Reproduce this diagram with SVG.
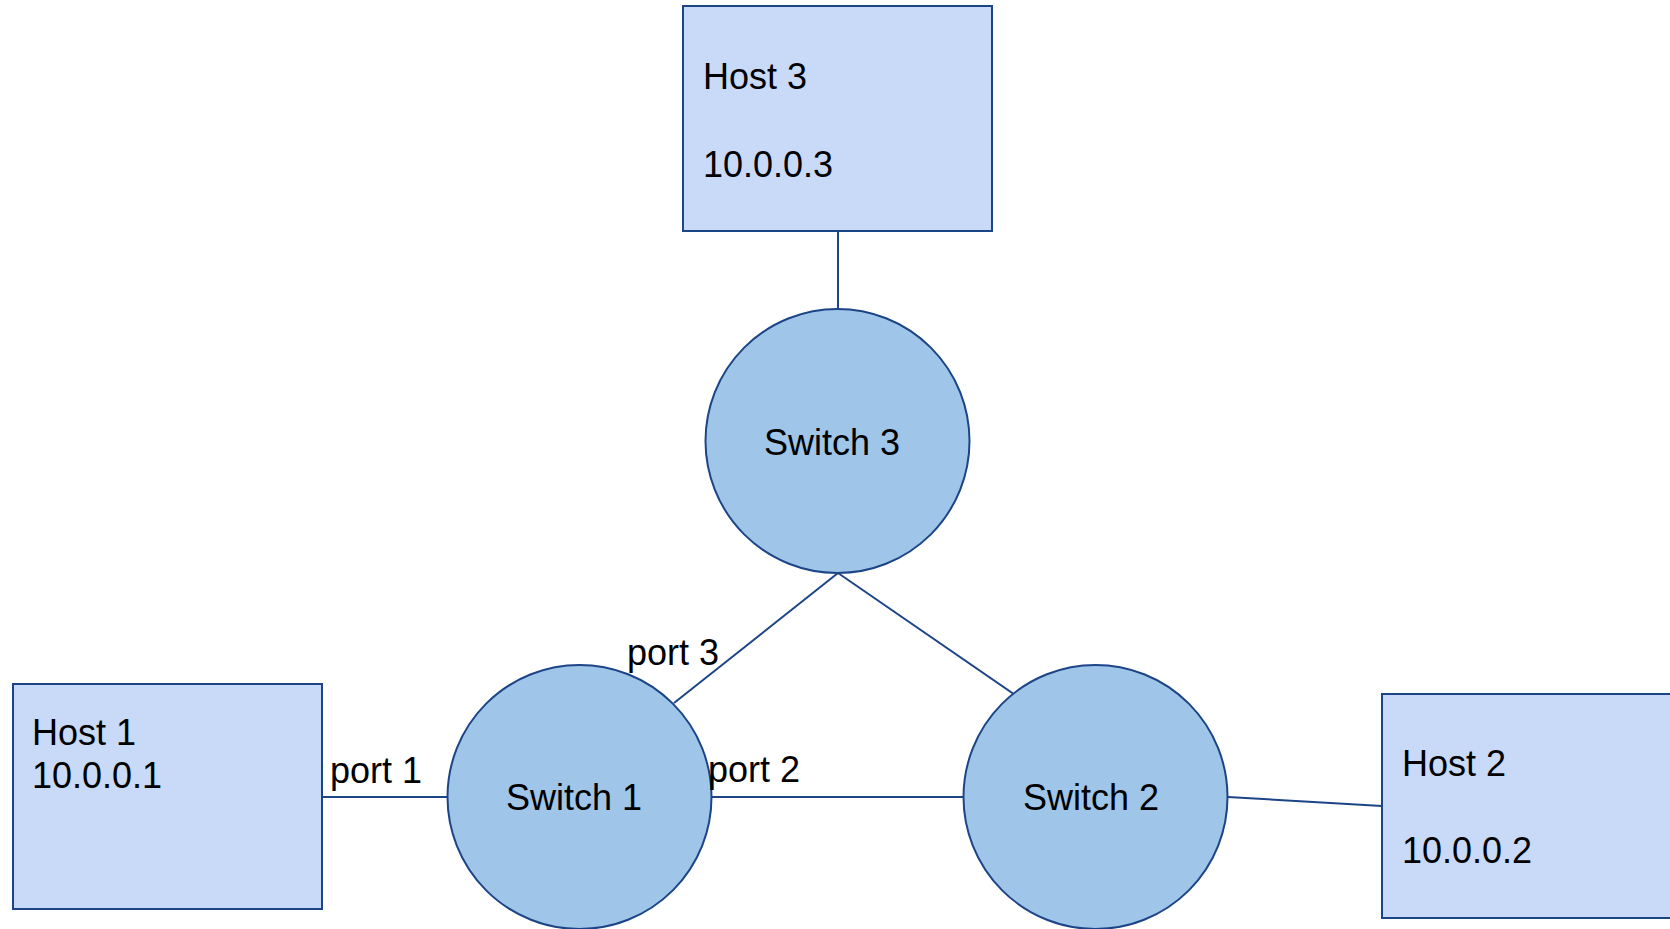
<svg xmlns="http://www.w3.org/2000/svg" width="1670" height="929" viewBox="0 0 1670 929">
<style>
.host{fill:#c9daf8;stroke:#1c4587;stroke-width:2}
.sw{fill:#9fc5e8;stroke:#1c4587;stroke-width:2}
.conn line{stroke:#1c4587;stroke-width:2}
text{font-family:"Liberation Sans",Arial,sans-serif;font-size:36px;fill:#000}
.c{text-anchor:middle}
</style>
<rect width="1670" height="929" fill="#fff"/>
<g id="connectors" class="conn">
<line x1="838" y1="231" x2="838" y2="309"/>
<line x1="838" y1="573" x2="674" y2="703"/>
<line x1="838" y1="573" x2="1018" y2="697"/>
<line x1="322" y1="797" x2="447" y2="797"/>
<line x1="712" y1="797" x2="963" y2="797"/>
<line x1="1228" y1="797" x2="1382" y2="806"/>
</g>
<g id="host3">
<rect class="host" x="683" y="6" width="309" height="225"/>
<text x="703" y="89">Host 3</text>
<text x="703" y="177">10.0.0.3</text>
</g>
<g id="switch3">
<circle class="sw" cx="837.5" cy="441" r="132"/>
<text class="c" x="832" y="455">Switch 3</text>
</g>
<g id="host1">
<rect class="host" x="13" y="684" width="309" height="225"/>
<text x="32" y="745">Host 1</text>
<text x="32" y="788">10.0.0.1</text>
</g>
<g id="switch1">
<circle class="sw" cx="579.5" cy="797" r="132"/>
<text class="c" x="574" y="810">Switch 1</text>
</g>
<g id="switch2">
<circle class="sw" cx="1095.5" cy="797" r="132"/>
<text class="c" x="1091" y="810">Switch 2</text>
</g>
<g id="host2">
<rect class="host" x="1382" y="694" width="309" height="224"/>
<text x="1402" y="776">Host 2</text>
<text x="1402" y="863">10.0.0.2</text>
</g>
<g id="labels">
<text x="330" y="783">port 1</text>
<text x="708" y="782">port 2</text>
<text x="627" y="665">port 3</text>
</g>
</svg>
